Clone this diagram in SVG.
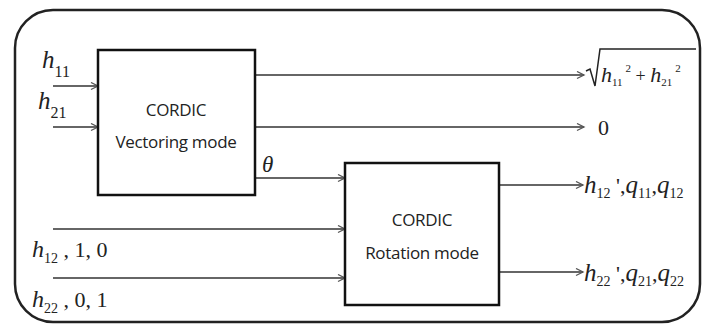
<svg xmlns="http://www.w3.org/2000/svg" width="707" height="324" viewBox="0 0 707 324">
<style>
.frame{fill:#fff;stroke:#222;stroke-width:2.5}
.box{fill:#fff;stroke:#111;stroke-width:2.5}
.lbl{font-family:"Open Sans","Liberation Sans",sans-serif;font-size:17px;fill:#222;text-anchor:middle;letter-spacing:-0.3px}
.m{font-family:"Liberation Serif",serif;font-style:italic;fill:#222}
.n{font-family:"Liberation Serif",serif;font-style:normal;fill:#222}
.conn{stroke:#666;stroke-width:2;fill:none;marker-end:url(#ah)}
</style>
<defs>
<marker id="ah" markerWidth="10" markerHeight="10" refX="8" refY="4" orient="auto" markerUnits="userSpaceOnUse">
<path d="M1,0.5 L8,4 L1,7.5" fill="none" stroke="#555" stroke-width="1.3"/>
</marker>
</defs>
<rect class="frame" x="15" y="10" width="685" height="312" rx="38" ry="38"/>
<g id="connectors">
<line class="conn" x1="53" y1="86" x2="98" y2="86"/>
<line class="conn" x1="53" y1="127" x2="98" y2="127"/>
<line class="conn" x1="255" y1="75" x2="584" y2="75"/>
<line class="conn" x1="255" y1="127" x2="584" y2="127"/>
<line class="conn" x1="255" y1="178" x2="345" y2="178"/>
<line class="conn" x1="53" y1="229" x2="345" y2="229"/>
<line class="conn" x1="53" y1="278" x2="345" y2="278"/>
<line class="conn" x1="499" y1="185" x2="583" y2="185"/>
<line class="conn" x1="499" y1="272" x2="583" y2="272"/>
</g>
<g id="vectoring">
<rect class="box" x="98" y="50" width="157" height="145"/>
<text class="lbl" x="176" y="116">CORDIC</text>
<text class="lbl" x="176" y="148">Vectoring mode</text>
</g>
<g id="rotation">
<rect class="box" x="345" y="163" width="154" height="142"/>
<text class="lbl" x="422" y="226">CORDIC</text>
<text class="lbl" x="422" y="259">Rotation mode</text>
</g>
<g id="labels">
<text class="m" x="42" y="68" font-size="25">h<tspan class="n" font-size="16" dy="9">11</tspan></text>
<text class="m" x="38" y="109" font-size="25">h<tspan class="n" font-size="16" dy="9">21</tspan></text>
<text class="m" x="262" y="172" font-size="23">θ</text>
<text class="m" x="32" y="257" font-size="24">h<tspan class="n" font-size="14" dy="6">12</tspan><tspan class="n" font-size="22" dy="-6"> , 1, 0</tspan></text>
<text class="m" x="32" y="307" font-size="24">h<tspan class="n" font-size="14" dy="6">22</tspan><tspan class="n" font-size="22" dy="-6"> , 0, 1</tspan></text>
<text class="n" x="598" y="135" font-size="22">0</text>
<g id="sqrt">
<path d="M586,71 L590,69 L595,86 L600,49 L696,49" fill="none" stroke="#222" stroke-width="1.5"/>
<text class="m" x="601" y="82" font-size="22">h<tspan class="n" font-size="11" dy="4">11</tspan><tspan class="n" font-size="11" dy="-14" dx="3">2</tspan><tspan class="n" font-size="18" dy="10"> + </tspan><tspan>h</tspan><tspan class="n" font-size="11" dy="4">21</tspan><tspan class="n" font-size="11" dy="-14" dx="3">2</tspan></text>
</g>
<text class="m" x="584" y="193" font-size="25">h<tspan class="n" font-size="14" dy="5">12</tspan><tspan class="n" font-size="22" dy="-5"> ',</tspan><tspan>q</tspan><tspan class="n" font-size="14" dy="5">11</tspan><tspan class="n" font-size="22" dy="-5">,</tspan><tspan>q</tspan><tspan class="n" font-size="14" dy="5">12</tspan></text>
<text class="m" x="584" y="281" font-size="25">h<tspan class="n" font-size="14" dy="5">22</tspan><tspan class="n" font-size="22" dy="-5"> ',</tspan><tspan>q</tspan><tspan class="n" font-size="14" dy="5">21</tspan><tspan class="n" font-size="22" dy="-5">,</tspan><tspan>q</tspan><tspan class="n" font-size="14" dy="5">22</tspan></text>
</g>
</svg>
